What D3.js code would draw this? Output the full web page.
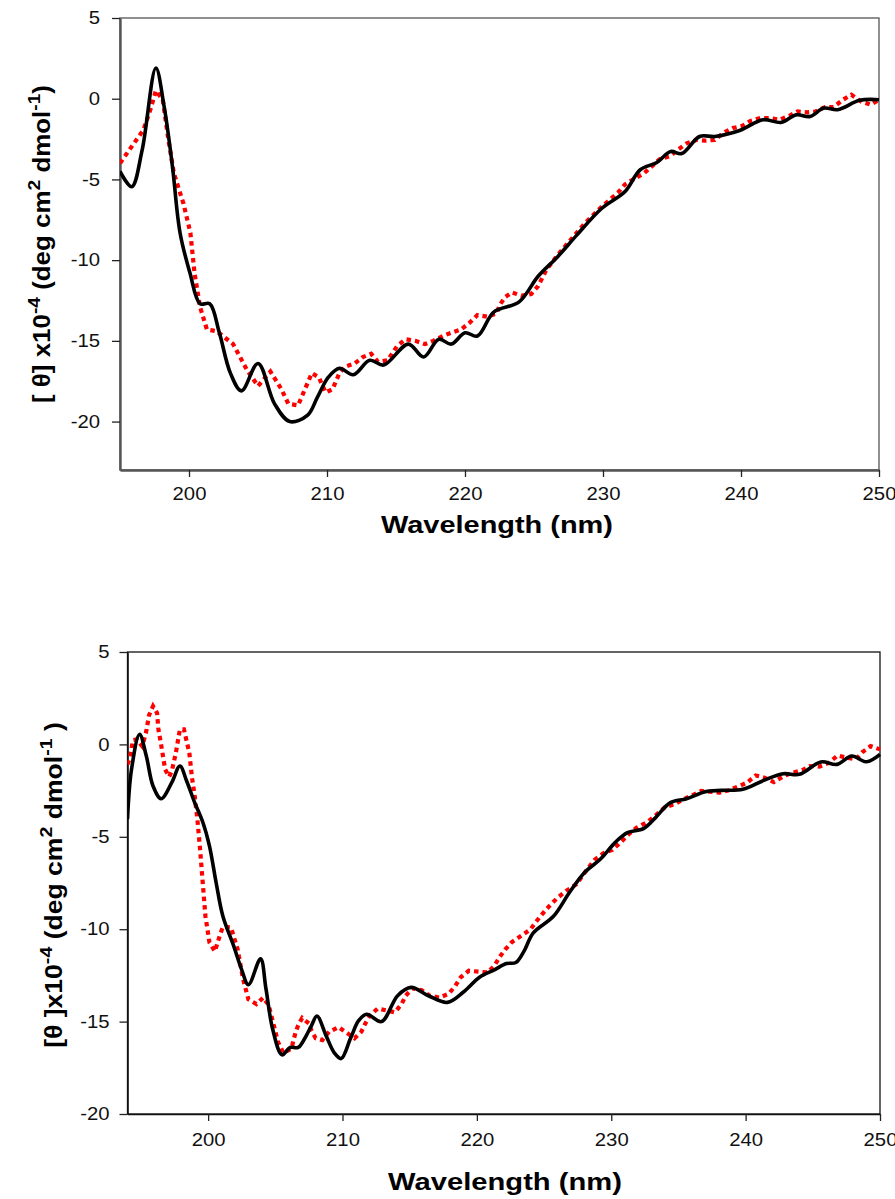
<!DOCTYPE html>
<html>
<head>
<meta charset="utf-8">
<script src="https://cdn.jsdelivr.net/npm/d3@7"></script>
<style>
  body { margin: 0; background: #fff; }
  text { font-family: "Liberation Sans", Arial, sans-serif; }
</style>
</head>
<body>
<script>
/* ------------------------------- chart data ------------------------------- */
// top panel: [wavelength nm, ellipticity x10^-4]
const topBlack = [
  [195, -4.5], [195.85, -5.45], [196.6, -3.2], [197.6, 1.9], [198.2, -0.5], [198.8, -4.2],
  [199.35, -8.3], [200.07, -10.8], [200.8, -12.7], [201.5, -12.7], [202.2, -14.5],
  [203, -17], [203.8, -18.1], [205.0, -16.4], [206.2, -18.9], [207.3, -20.0], [208.6, -19.6],
  [209.3, -18.5], [210.1, -17.25], [210.9, -16.7], [211.9, -17.1], [213.1, -16.2],
  [214.1, -16.5], [215.9, -15.2], [217.0, -16.0], [218.1, -14.9], [219.0, -15.2],
  [220.0, -14.5], [220.9, -14.7], [222.1, -13.2], [223.9, -12.6], [225.3, -11.0],
  [226.7, -9.8], [228.1, -8.45], [229.9, -6.8], [231.6, -5.75], [232.7, -4.4],
  [233.9, -3.95], [234.9, -3.27], [235.7, -3.4], [237.0, -2.34], [238.1, -2.34],
  [239.9, -1.97], [241.6, -1.3], [242.9, -1.47], [244.0, -1.0], [245.0, -1.1],
  [246.0, -0.58], [247.0, -0.68], [248.6, -0.1], [250, -0.06]
];
const topRed = [
  [195, -4.0], [195.85, -2.96], [196.7, -1.93], [197.2, -0.68], [197.6, 0.5], [198.1, -0.06],
  [198.5, -2.5], [198.9, -4.6], [199.6, -6.5], [200.1, -8.3], [200.4, -10.8], [200.8, -12.9],
  [201.3, -14.3], [202.0, -14.4], [203.2, -15.2], [204.2, -16.8], [205.0, -17.8],
  [205.9, -16.9], [206.7, -18.0], [207.2, -18.9], [207.9, -19.0], [208.6, -17.6],
  [208.9, -17.0], [209.4, -17.25], [209.9, -18.2], [210.4, -18.0], [210.9, -17.0],
  [211.3, -16.6], [212.0, -16.4], [212.6, -16.0], [213.2, -15.8], [213.7, -16.3],
  [214.4, -16.2], [215.1, -15.3], [215.7, -14.9], [216.4, -15.0], [217.1, -15.2],
  [217.7, -15.0], [218.4, -14.7], [219.0, -14.5], [219.7, -14.3], [220.3, -13.9],
  [220.9, -13.4], [221.6, -13.5], [222.3, -13.3], [222.5, -12.8], [222.9, -12.3],
  [223.4, -12.0], [224.1, -12.2], [224.8, -12.1], [225.3, -11.6], [225.9, -10.6],
  [226.7, -9.7], [227.7, -8.7], [228.7, -7.7], [229.9, -6.7], [231.1, -5.8], [231.6, -5.3],
  [232.4, -4.9], [233.0, -4.6], [234.1, -3.75], [234.9, -3.54], [235.4, -3.17],
  [236.1, -2.75], [236.8, -2.55], [237.4, -2.6], [238.1, -2.55], [238.7, -2.13],
  [239.4, -1.82], [240.1, -1.68], [240.7, -1.37], [241.4, -1.2], [242.1, -1.2],
  [242.8, -1.3], [243.5, -1.06], [244.1, -0.79], [244.8, -0.85], [245.4, -0.79],
  [246.1, -0.52], [246.7, -0.52], [247.4, -0.06], [248.0, 0.25], [248.7, -0.17],
  [249.4, -0.37], [250.0, -0.06]
];
// bottom panel
const botBlack = [
  [194.0, -4.05], [194.3, -1.35], [194.9, 0.54], [195.4, -0.63], [195.9, -2.25],
  [196.5, -2.94], [197.3, -2.06], [197.9, -1.17], [198.4, -1.98], [199.0, -3.15],
  [199.6, -4.2], [200.1, -5.5], [200.6, -7.5], [201.1, -9.3], [201.9, -10.9],
  [202.5, -12.2], [203.0, -13.0], [203.9, -11.6], [204.3, -13.2], [204.8, -15.4],
  [205.5, -16.8], [206.1, -16.4], [206.7, -16.4], [207.2, -15.9], [207.7, -15.2],
  [208.1, -14.7], [208.8, -15.8], [209.4, -16.7], [209.9, -17.0], [210.6, -15.9],
  [211.2, -14.95], [211.8, -14.6], [212.9, -15.0], [214.1, -13.6], [215.1, -13.15],
  [216.4, -13.6], [217.8, -13.96], [219.0, -13.4], [220.2, -12.6], [221.3, -12.2],
  [222.2, -11.86], [222.9, -11.8], [223.5, -11.2], [224.2, -10.2], [225.7, -9.3],
  [226.9, -8.0], [228.0, -6.94], [229.2, -6.2], [230.3, -5.3], [231.2, -4.77],
  [232.4, -4.56], [233.3, -3.96], [234.4, -3.15], [235.6, -2.94], [237.0, -2.56],
  [238.2, -2.49], [239.8, -2.43], [241.4, -1.93], [242.8, -1.59], [244.0, -1.62],
  [245.6, -0.95], [246.8, -1.08], [247.9, -0.63], [249.0, -0.94], [250.0, -0.54]
];
const botRed = [
  [194.0, -1.08], [194.2, -0.7], [194.4, 0.23], [194.7, 0.27], [195.1, -0.1], [195.4, 0.72],
  [195.6, 1.57], [195.9, 2.07], [196.2, 1.7], [196.3, 0.81], [196.5, 0.0], [196.8, -1.35],
  [197.1, -1.75], [197.3, -1.44], [197.6, -0.45], [197.9, 0.81], [198.2, 0.81],
  [198.6, -0.45], [198.8, -1.8], [199.0, -2.79], [199.2, -4.05], [199.4, -5.67],
  [199.6, -7.5], [199.8, -9.3], [200.1, -10.72], [200.5, -11.2], [200.9, -10.27],
  [201.1, -9.87], [201.7, -9.9], [202.2, -11.1], [202.6, -12.7], [203.0, -13.8],
  [203.6, -14.05], [204.1, -13.7], [204.5, -14.1], [204.8, -14.95], [205.2, -16.1],
  [205.6, -16.7], [206.2, -16.45], [206.5, -15.6], [206.7, -15.2], [207.0, -14.8],
  [207.5, -15.1], [207.7, -15.5], [208.0, -15.9], [208.5, -16.0], [209.0, -15.55],
  [209.7, -15.3], [210.3, -15.6], [210.9, -15.9], [211.4, -15.55], [211.7, -15.1],
  [212.0, -14.7], [212.6, -14.3], [213.3, -14.4], [213.9, -14.5], [214.4, -14.05],
  [214.7, -13.6], [215.2, -13.2], [215.9, -13.3], [216.5, -13.6], [217.2, -13.7],
  [217.9, -13.5], [218.4, -13.06], [218.8, -12.6], [219.4, -12.25], [220.2, -12.3],
  [220.8, -12.34], [221.3, -11.98], [221.7, -11.5], [222.1, -11.1], [222.6, -10.7],
  [223.3, -10.36], [224.0, -10.0], [224.4, -9.6], [224.9, -9.15], [225.4, -8.74],
  [226.0, -8.3], [226.7, -7.9], [227.4, -7.57], [228.3, -6.67], [228.75, -6.25],
  [229.4, -5.9], [230.1, -5.7], [230.7, -5.3], [231.3, -4.86], [231.9, -4.5],
  [232.7, -4.2], [233.3, -3.84], [234.0, -3.4], [234.7, -3.24], [235.3, -3.0],
  [236.0, -2.76], [236.7, -2.52], [237.3, -2.56], [238.05, -2.61], [238.7, -2.49],
  [239.4, -2.29], [240.1, -2.07], [240.75, -1.68], [241.4, -1.8], [242.1, -2.04],
  [242.85, -1.71], [243.5, -1.53], [244.2, -1.4], [244.8, -1.17], [245.5, -1.2],
  [246.2, -0.99], [246.85, -0.6], [247.5, -0.72], [248.2, -0.81], [248.7, -0.41],
  [249.3, -0.09], [250.0, -0.27]
];
const xTicks = [200, 210, 220, 230, 240, 250];
const topYTicks = [5, 0, -5, -10, -15, -20];
const botYTicks = [5, 0, -5, -10, -15, -20];

/* ----------------------------- create main svg ---------------------------- */
const width = 895, height = 1199;
const svg = d3.select("body").append("svg").attr("width", width).attr("height", height);
const stretch = 1.16; // the original figure is a little wider than tall

function panel(cfg) {
  const x = d3.scaleLinear().domain(cfg.xDomain).range([cfg.left, cfg.right]);
  const y = d3.scaleLinear().domain(cfg.yDomain).range([cfg.bottom, cfg.top]);
  const g = svg.append("g");

  //clip for curves
  const clipId = "clip" + cfg.id;
  svg.append("clipPath").attr("id", clipId).append("rect")
    .attr("x", cfg.left).attr("y", cfg.top - 4)
    .attr("width", cfg.right - cfg.left + 4).attr("height", cfg.bottom - cfg.top + 4);

  //frame
  g.append("rect")
    .attr("x", cfg.left).attr("y", cfg.top)
    .attr("width", cfg.right - cfg.left).attr("height", cfg.bottom - cfg.top)
    .attr("fill", "none").attr("stroke", cfg.frameColor).attr("stroke-width", 1.3);

  //axes
  const xAxis = g.append("g").attr("transform", `translate(0,${cfg.bottom})`)
    .call(d3.axisBottom(x).tickValues(xTicks).tickSize(7).tickSizeOuter(0)
      .tickPadding(cfg.xPad).tickFormat(d => String(d)));
  const yAxis = g.append("g").attr("transform", `translate(${cfg.left},0)`)
    .call(d3.axisLeft(y).tickValues(cfg.yTicks).tickSize(8).tickSizeOuter(0)
      .tickPadding(cfg.yPad).tickFormat(d => String(d)));
  [xAxis, yAxis].forEach(a => {
    a.select(".domain").attr("stroke", cfg.frameColor).attr("stroke-width", cfg.axisWidth);
    a.selectAll(".tick line").attr("stroke", "#222").attr("stroke-width", 1.3);
    a.selectAll(".tick text").attr("font-size", 17.5).attr("fill", "#111")
      .attr("font-family", "'Liberation Sans', Arial, sans-serif");
  });
  xAxis.selectAll(".tick text").attr("transform", `scale(${stretch},1)`);
  yAxis.selectAll(".tick text")
    .attr("x", -(8 + cfg.yPad) / stretch)
    .attr("transform", `scale(${stretch},1)`);

  //red dotted series
  g.append("path").datum(cfg.red)
    .attr("clip-path", `url(#${clipId})`)
    .attr("d", d3.line().x(d => x(d[0])).y(d => y(d[1])))
    .attr("fill", "none").attr("stroke", "#ff0000")
    .attr("stroke-width", 4.2).attr("stroke-dasharray", "4.5 4");

  //black solid series
  g.append("path").datum(cfg.black)
    .attr("clip-path", `url(#${clipId})`)
    .attr("d", d3.line().curve(d3.curveCatmullRom.alpha(0.5)).x(d => x(d[0])).y(d => y(d[1])))
    .attr("fill", "none").attr("stroke", "#000")
    .attr("stroke-width", 3.6).attr("stroke-linejoin", "round");

  //x title
  const xt = g.append("text")
    .attr("text-anchor", "middle").attr("font-size", 24).attr("font-weight", "bold")
    .text("Wavelength (nm)");
  const xs = cfg.xTitleW / xt.node().getComputedTextLength();
  xt.attr("transform", `translate(${cfg.xTitleX},${cfg.xTitleY}) scale(${xs},1)`);

  //y title
  const t = g.append("text")
    .attr("text-anchor", "middle").attr("font-size", 23).attr("font-weight", "bold");
  cfg.yTitle.forEach(p => {
    const s = t.append("tspan").text(p.t);
    if (p.sup) s.attr("font-size", 17).attr("dy", -10);
    if (p.down) s.attr("dy", 10);
  });
  const ys = cfg.yTitleH / t.node().getComputedTextLength();
  t.attr("transform", `translate(${cfg.yTitleX},${cfg.yTitleY}) rotate(-90) scale(${ys},1)`);
}

panel({
  id: "top", left: 120, right: 879, top: 18, bottom: 470,
  xDomain: [195, 250], yDomain: [-23, 5], yTicks: topYTicks,
  black: topBlack, red: topRed, frameColor: "#555", axisWidth: 2.4,
  xPad: 11, yPad: 12,
  xTitleX: 497, xTitleY: 533, xTitleW: 232,
  yTitleX: 50, yTitleY: 244, yTitleH: 318,
  yTitle: [{t: "[ θ] x10"}, {t: "-4", sup: true}, {t: " (deg cm", down: true}, {t: "2", sup: true},
           {t: " dmol", down: true}, {t: "-1", sup: true}, {t: ")", down: true}]
});

panel({
  id: "bot", left: 127.5, right: 880, top: 652, bottom: 1114,
  xDomain: [194, 250], yDomain: [-20, 5], yTicks: botYTicks,
  black: botBlack, red: botRed, frameColor: "#111", axisWidth: 1.6,
  xPad: 13, yPad: 10,
  xTitleX: 505, xTitleY: 1190, xTitleW: 234,
  yTitleX: 62, yTitleY: 885, yTitleH: 326,
  yTitle: [{t: "[θ ]x10"}, {t: "-4", sup: true}, {t: " (deg cm", down: true}, {t: "2", sup: true},
           {t: " dmol", down: true}, {t: "-1", sup: true}, {t: " )", down: true}]
});
</script>
</body>
</html>
